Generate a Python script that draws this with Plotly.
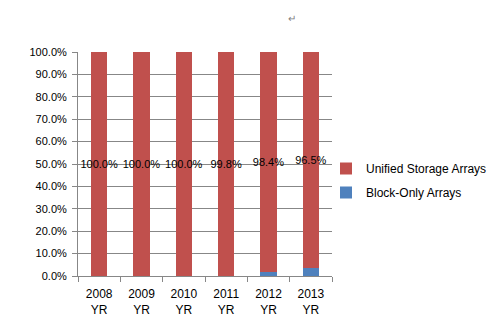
import plotly.graph_objects as go

years = ["2008<br>YR", "2009<br>YR", "2010<br>YR", "2011<br>YR", "2012<br>YR", "2013<br>YR"]
unified = [100.0, 100.0, 100.0, 99.8, 98.4, 96.5]
block = [0.0, 0.0, 0.0, 0.2, 1.6, 3.5]
y_ticks = [0, 10, 20, 30, 40, 50, 60, 70, 80, 90, 100]

FONT = "Liberation Sans"
GRID = "#878787"

fig = go.Figure()
fig.add_trace(go.Bar(
    x=years, y=block, name="Block-Only Arrays", legendgroup="b", legendrank=2,
    marker=dict(color="#4F81BD", line=dict(width=0)),
    hoverinfo="skip",
))
fig.add_trace(go.Bar(
    x=years, y=unified, name="Unified Storage Arrays", legendgroup="u", legendrank=1,
    marker=dict(color="#C0504D", line=dict(width=0)),
    text=[f"{v:.1f}%" for v in unified],
    textposition="inside", insidetextanchor="middle",
    textangle=0, constraintext="none",
    textfont=dict(family=FONT, size=11, color="#000000"),
    hoverinfo="skip",
))

fig.update_layout(
    width=496, height=336,
    barmode="stack", bargap=0.62,
    plot_bgcolor="white", paper_bgcolor="white",
    margin=dict(l=78, r=164, t=52, b=60, autoexpand=False),
    font=dict(family=FONT, size=11, color="#000000"),
    legend=dict(
        x=(326 - 78) / 254, y=(276 - 154) / 224, xanchor="left", yanchor="top",
        font=dict(family=FONT, size=12, color="#000000"),
        itemwidth=30, tracegroupgap=5, traceorder="grouped",
        bgcolor="rgba(0,0,0,0)", borderwidth=0,
    ),
    xaxis=dict(
        showline=True, linecolor=GRID, linewidth=1,
        ticks="outside", ticklen=5, tickcolor=GRID, tickson="boundaries",
        showgrid=False, ticklabelstandoff=7,
        tickfont=dict(family=FONT, size=12, color="#000000"),
    ),
    yaxis=dict(
        range=[0, 100], tickvals=y_ticks,
        ticktext=[f"{v:.1f}%" for v in y_ticks],
        showline=True, linecolor=GRID, linewidth=1,
        ticks="outside", ticklen=5, tickcolor=GRID,
        showgrid=True, gridcolor=GRID, gridwidth=1,
        zeroline=False, ticklabelstandoff=3,
        tickfont=dict(family=FONT, size=11, color="#000000"),
    ),
    annotations=[dict(
        text="↵", x=(298 - 78) / 254, y=(276 - 11) / 224,
        xref="paper", yref="paper", showarrow=False,
        font=dict(size=10, color="#808080"),
    )],
)

fig.write_html("out.html")
